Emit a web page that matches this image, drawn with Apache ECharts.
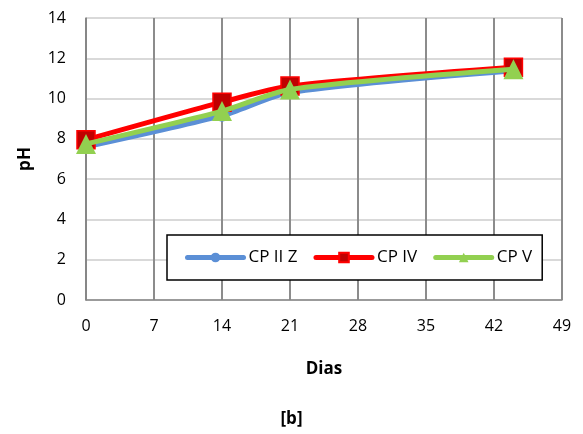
<!DOCTYPE html>
<html><head><meta charset="utf-8">
<script src="https://cdn.jsdelivr.net/npm/echarts@6/dist/echarts.min.js"></script>
<style>html,body{margin:0;padding:0;background:#fff}#c{width:583px;height:434px}</style>
</head><body><div id="c"></div>
<script>
var days = [0, 14, 21, 44];
var cp2z = [7.6, 9.15, 10.3, 11.38];
var cp4 = [7.95, 9.82, 10.62, 11.55];
var cp5 = [7.75, 9.38, 10.45, 11.45];
var seriesNames = ['CP II Z', 'CP IV', 'CP V'];
var xTicks = {min: 0, max: 49, interval: 7};
var yTicks = {min: 0, max: 14, interval: 2};

function pairs(v){ return days.map(function(d,i){ return [d, v[i]]; }); }
var font = 'Open Sans, Liberation Sans, sans-serif';
var chart = echarts.init(document.getElementById('c'));
chart.setOption({
  animation: false,
  title: {text: '[b]', left: 'center', top: 406, textStyle: {fontFamily: font, fontSize: 17, fontWeight: 'bold', color: '#000'}},
  grid: {left: 86, right: 21, top: 18, bottom: 134},
  legend: {
    left: 167, top: 235, width: 384, height: 49,
    padding: [14, 10, 14, 18],
    itemGap: 16, itemWidth: 56, itemHeight: 12,
    borderColor: '#000', borderWidth: 1.5,
    backgroundColor: '#fff',
    lineStyle: {width: 5, cap: 'round'},
    textStyle: {fontFamily: font, fontSize: 17, color: '#000'},
    data: seriesNames
  },
  xAxis: {
    type: 'value', min: xTicks.min, max: xTicks.max, interval: xTicks.interval,
    name: 'Dias', nameLocation: 'middle', nameGap: 61,
    nameTextStyle: {fontFamily: font, fontSize: 17, fontWeight: 'bold', color: '#000'},
    axisLine: {lineStyle: {color: '#868686', width: 1.5}},
    axisTick: {show: false},
    axisLabel: {fontFamily: font, fontSize: 16, color: '#000', margin: 18},
    splitLine: {show: true, lineStyle: {color: '#8c8c8c', width: 2}}
  },
  yAxis: {
    type: 'value', min: yTicks.min, max: yTicks.max, interval: yTicks.interval,
    name: 'pH', nameLocation: 'middle', nameGap: 52,
    nameTextStyle: {fontFamily: font, fontSize: 17, fontWeight: 'bold', color: '#000'},
    axisLine: {show: true, lineStyle: {color: '#868686', width: 1.5}},
    axisTick: {show: false},
    axisLabel: {fontFamily: font, fontSize: 16, color: '#000', margin: 20},
    splitLine: {show: true, lineStyle: {color: '#d9d9d9', width: 2}}
  },
  series: [
    {name: seriesNames[0], type: 'line', data: pairs(cp2z), smooth: 0.25,
     symbol: 'circle', symbolSize: 12,
     itemStyle: {color: '#5b8fd6'}, lineStyle: {color: '#5b8fd6', width: 5, cap: 'round'}, z: 2},
    {name: seriesNames[1], type: 'line', data: pairs(cp4), smooth: 0.25,
     symbol: 'rect', symbolSize: 18,
     itemStyle: {color: '#c00000', borderColor: '#ff0000', borderWidth: 1.5}, lineStyle: {color: '#ff0000', width: 5, cap: 'round'}, z: 3},
    {name: seriesNames[2], type: 'line', data: pairs(cp5), smooth: 0.25,
     symbol: 'triangle', symbolSize: 20,
     itemStyle: {color: '#92d050'}, lineStyle: {color: '#92d050', width: 5, cap: 'round'}, z: 4}
  ]
});
</script></body></html>
